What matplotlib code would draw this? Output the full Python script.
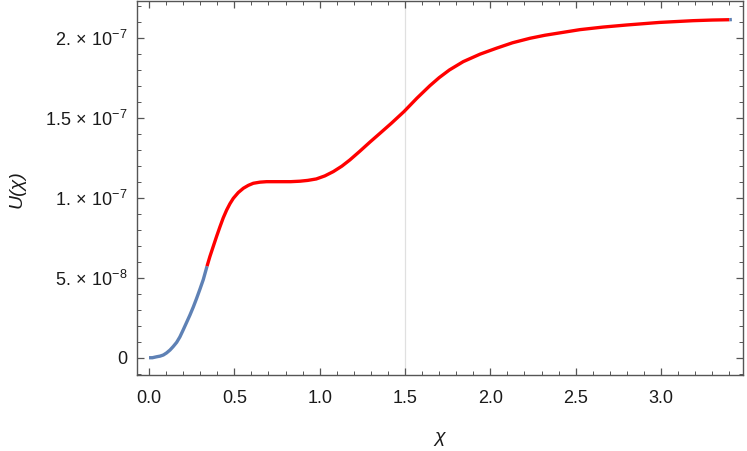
import matplotlib
matplotlib.use("Agg")
import matplotlib.pyplot as plt
from matplotlib.ticker import FixedLocator, FixedFormatter, MultipleLocator

plt.rcParams["font.family"] = ["Liberation Sans", "DejaVu Sans"]
plt.rcParams["mathtext.fontset"] = "custom"
plt.rcParams["mathtext.rm"] = "Liberation Sans"
plt.rcParams["mathtext.it"] = "Liberation Sans:italic"

# values (y in units of 1e-8)
x_start = [0.0, 0.02, 0.045, 0.065, 0.084, 0.103, 0.123, 0.142, 0.162, 0.181,
           0.2, 0.22, 0.24, 0.26, 0.279, 0.298, 0.318, 0.34]
u_start = [0.0, 0.0, 0.06, 0.1, 0.17, 0.3, 0.48, 0.7, 0.96, 1.3,
           1.73, 2.2, 2.67, 3.18, 3.71, 4.27, 4.88, 5.72]

x_mid = [0.34, 0.357, 0.376, 0.396, 0.416, 0.435, 0.455, 0.474, 0.494, 0.523,
         0.553, 0.582, 0.611, 0.65, 0.689, 0.767, 0.83, 0.885, 0.93, 0.98,
         1.03, 1.08, 1.13, 1.177, 1.235, 1.294, 1.353, 1.42, 1.494, 1.57,
         1.646, 1.70, 1.76, 1.841, 1.94, 2.036, 2.13, 2.232, 2.32, 2.408, 2.525,
         2.66, 2.798, 2.99, 3.188, 3.30, 3.40]
u_mid = [5.72, 6.33, 6.94, 7.58, 8.19, 8.74, 9.23, 9.62, 9.96, 10.32,
         10.59, 10.77, 10.9, 10.97, 11.0, 11.0, 11.0, 11.03, 11.08, 11.17,
         11.36, 11.63, 11.97, 12.36, 12.9, 13.47, 14.02, 14.65, 15.38, 16.22,
         17.0, 17.5, 17.98, 18.5, 18.97, 19.34, 19.68, 19.96, 20.15, 20.3, 20.5,
         20.66, 20.79, 20.95, 21.06, 21.1, 21.12]

x_end = [3.40, 3.415]
u_end = [21.12, 21.13]

x_marker = 1.5

y_ticks = [0, 5e-8, 1e-7, 1.5e-7, 2e-7]
y_ticklabels = ["0", r"5.$\,\times\,$10$^{-8}$", r"1.$\,\times\,$10$^{-7}$",
                r"1.5$\,\times\,$10$^{-7}$", r"2.$\,\times\,$10$^{-7}$"]

blue = "#5E81B5"
red = "#FF0000"
frame = "#555555"

fig = plt.figure(figsize=(7.47, 4.51), dpi=100)
ax = fig.add_axes([0.1834, 0.1685, 0.8112, 0.8293])

ax.axvline(x_marker, color="#e0e0e0", lw=0.9, zorder=1)
ax.plot(x_start, [v * 1e-8 for v in u_start], color=blue, lw=2.4,
        solid_capstyle="butt", solid_joinstyle="round", zorder=3)
ax.plot(x_mid, [v * 1e-8 for v in u_mid], color=red, lw=2.4,
        solid_capstyle="butt", solid_joinstyle="round", zorder=3)
ax.plot(x_end, [v * 1e-8 for v in u_end], color=blue, lw=2.4,
        solid_capstyle="butt", zorder=3)

ax.set_xlim(-0.0703, 3.48)
ax.set_ylim(-1.08e-8, 2.229e-7)

ax.xaxis.set_major_locator(MultipleLocator(0.5))
ax.xaxis.set_minor_locator(MultipleLocator(0.1))
ax.xaxis.set_major_formatter(plt.FuncFormatter(lambda v, p: f"{v:.1f}"))
ax.yaxis.set_major_locator(FixedLocator(y_ticks))
ax.yaxis.set_major_formatter(FixedFormatter(y_ticklabels))
ax.yaxis.set_minor_locator(MultipleLocator(1e-8))

ax.tick_params(which="both", direction="in", top=True, right=True,
               color=frame, labelcolor="#1a1a1a", labelsize=13)
ax.tick_params(which="major", length=4.8, width=0.9)
ax.tick_params(axis="x", which="major", pad=11)
ax.tick_params(axis="y", which="major", pad=7)
ax.tick_params(which="minor", length=2.9, width=0.7)
for s in ax.spines.values():
    s.set_color(frame)
    s.set_linewidth(1.0)

fig.text(440 / 747, 1 - 438 / 451, "χ", fontsize=14, fontstyle="italic",
         ha="center", va="center", color="#1a1a1a")
fig.text(17 / 747, 1 - 189 / 451, "U(χ)", fontsize=14, fontstyle="italic",
         rotation=90, ha="center", va="center", color="#1a1a1a")

fig.savefig("out.png", dpi=100)
